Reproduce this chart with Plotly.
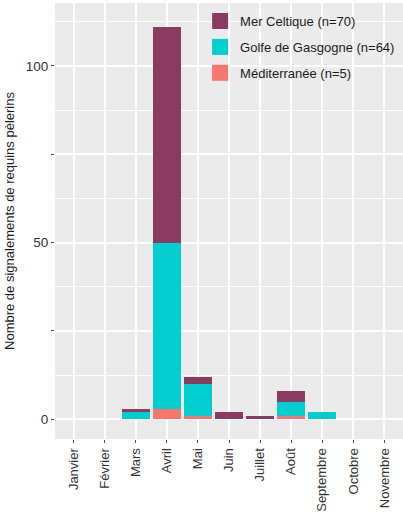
import plotly.graph_objects as go

mois = ["Janvier", "Février", "Mars", "Avril", "Mai", "Juin", "Juillet",
        "Août", "Septembre", "Octobre", "Novembre", "Décembre"]
mediterranee = [0, 0, 0, 3, 1, 0, 0, 1, 0, 0, 0, 0]
golfe_gascogne = [0, 0, 2, 47, 9, 0, 0, 4, 2, 0, 0, 0]
mer_celtique = [0, 0, 1, 61, 2, 2, 1, 3, 0, 0, 0, 0]

noms = ["Méditerranée (n=5)", "Golfe de Gasgogne (n=64)", "Mer Celtique (n=70)"]
couleurs = ["#F8766D", "#00CED1", "#8B3A62"]
series = [mediterranee, golfe_gascogne, mer_celtique]

y_ticks = [0, 25, 50, 75, 100]
y_labels = ["0", "", "50", "", "100"]
y_minor = [12.5, 37.5, 62.5, 87.5, 112.5]

fig = go.Figure()
for nom, col, vals in zip(noms, couleurs, series):
    fig.add_trace(go.Bar(x=mois, y=vals, name=nom, marker_color=col,
                         marker_line_width=0, width=0.9, showlegend=False))
# legend keys (top of stack first)
for nom, col in reversed(list(zip(noms, couleurs))):
    fig.add_trace(go.Scatter(x=[None], y=[None], mode="markers", name=nom,
                             legendgroup=nom,
                             marker=dict(symbol="square", size=22, color=col),
                             showlegend=True))

font_fam = "Liberation Sans, Arial, sans-serif"
fig.update_layout(
    width=403, height=513,
    barmode="stack", bargap=0.1,
    paper_bgcolor="white", plot_bgcolor="#EBEBEB",
    margin=dict(l=55, r=0, t=3, b=74, autoexpand=False),
    font=dict(family=font_fam, color="#4D4D4D", size=13),
    legend=dict(x=0.417, y=0.993, xanchor="left", yanchor="top",
                traceorder="grouped", bgcolor="rgba(0,0,0,0)",
                font=dict(size=13, color="#1A1A1A"), itemwidth=30,
                tracegroupgap=6),
    xaxis=dict(range=[-0.6, 10.6], tickangle=-90, showgrid=True,
               gridcolor="white", gridwidth=1.5, ticks="outside", ticklen=3,
               tickcolor="#4D4D4D", tickfont=dict(size=13, color="#333333"),
               zeroline=False, fixedrange=True, automargin=False),
    yaxis=dict(range=[-5.6, 117.8], tickvals=y_ticks, ticktext=y_labels,
               showgrid=True, gridcolor="white", gridwidth=1.5,
               ticks="outside", ticklen=3, tickcolor="#4D4D4D",
               tickfont=dict(size=13.5, color="#333333"), zeroline=False,
               automargin=True, fixedrange=True,
               minor=dict(tickvals=y_minor, showgrid=True, gridcolor="white",
                          gridwidth=0.7),
               title=dict(text="Nombre de signalements de requins pèlerins",
                          font=dict(size=13, color="#1A1A1A"), standoff=8)),
)

fig.write_html("out.html", config={"displayModeBar": False},
               post_script="document.body.style.margin='0';"
                           "document.body.style.padding='0';")
